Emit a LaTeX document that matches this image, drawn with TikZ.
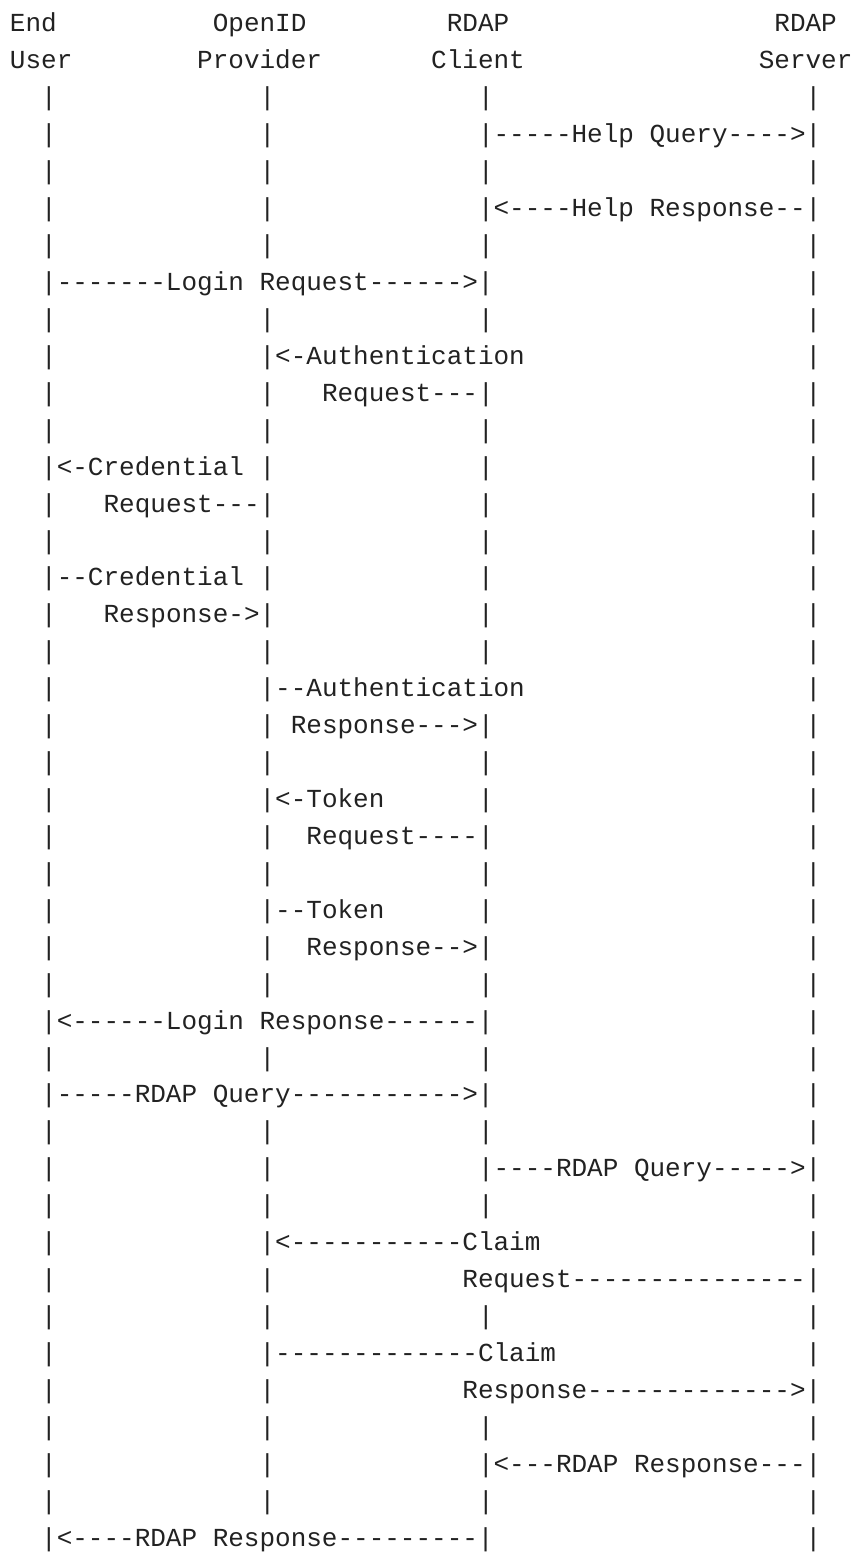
\documentclass[tikz,border=0pt]{standalone}
\usepackage{fontspec}
\setmonofont{Liberation Mono}
\definecolor{ink}{HTML}{222222}
\tikzset{
  txt/.style={anchor=base west, inner sep=0pt, outer sep=0pt,
    font={\ttfamily\fontsize{13pt}{15pt}\selectfont}, text=ink}
}
\newcommand\seg[3]{\node[txt] (r#1c#2) at (#2,#1-1) {#3};}
\newcommand\bars[1]{\seg{#1}{2}{|}\seg{#1}{16}{|}\seg{#1}{30}{|}\seg{#1}{51}{|}}
\begin{document}
\begin{tikzpicture}
\fill[white] (0,0) rectangle (427.5pt,-776pt);
\useasboundingbox (0,0) rectangle (427.5pt,-776pt);
\begin{scope}[shift={(5pt,-16pt)}, x=7.8pt, y=-18.465pt]
\seg{1}{0}{End}\seg{1}{13}{OpenID}\seg{1}{28}{RDAP}\seg{1}{49}{RDAP}
\seg{2}{0}{User}\seg{2}{12}{Provider}\seg{2}{27}{Client}\seg{2}{48}{Server}
\bars{3}
\seg{4}{2}{|}\seg{4}{16}{|}\seg{4}{30}{|-----Help Query---->|}
\bars{5}
\seg{6}{2}{|}\seg{6}{16}{|}\seg{6}{30}{|<----Help Response--|}
\bars{7}
\seg{8}{2}{|-------Login Request------>|}\seg{8}{51}{|}
\bars{9}
\seg{10}{2}{|}\seg{10}{16}{|<-Authentication}\seg{10}{51}{|}
\seg{11}{2}{|}\seg{11}{16}{|}\seg{11}{20}{Request---|}\seg{11}{51}{|}
\bars{12}
\seg{13}{2}{|<-Credential}\seg{13}{16}{|}\seg{13}{30}{|}\seg{13}{51}{|}
\seg{14}{2}{|}\seg{14}{6}{Request---|}\seg{14}{30}{|}\seg{14}{51}{|}
\bars{15}
\seg{16}{2}{|--Credential}\seg{16}{16}{|}\seg{16}{30}{|}\seg{16}{51}{|}
\seg{17}{2}{|}\seg{17}{6}{Response->|}\seg{17}{30}{|}\seg{17}{51}{|}
\bars{18}
\seg{19}{2}{|}\seg{19}{16}{|--Authentication}\seg{19}{51}{|}
\seg{20}{2}{|}\seg{20}{16}{|}\seg{20}{18}{Response--->|}\seg{20}{51}{|}
\bars{21}
\seg{22}{2}{|}\seg{22}{16}{|<-Token}\seg{22}{30}{|}\seg{22}{51}{|}
\seg{23}{2}{|}\seg{23}{16}{|}\seg{23}{19}{Request----|}\seg{23}{51}{|}
\bars{24}
\seg{25}{2}{|}\seg{25}{16}{|--Token}\seg{25}{30}{|}\seg{25}{51}{|}
\seg{26}{2}{|}\seg{26}{16}{|}\seg{26}{19}{Response-->|}\seg{26}{51}{|}
\bars{27}
\seg{28}{2}{|<------Login Response------|}\seg{28}{51}{|}
\bars{29}
\seg{30}{2}{|-----RDAP Query----------->|}\seg{30}{51}{|}
\bars{31}
\seg{32}{2}{|}\seg{32}{16}{|}\seg{32}{30}{|----RDAP Query----->|}
\bars{33}
\seg{34}{2}{|}\seg{34}{16}{|<-----------Claim}\seg{34}{51}{|}
\seg{35}{2}{|}\seg{35}{16}{|}\seg{35}{29}{Request---------------|}
\bars{36}
\seg{37}{2}{|}\seg{37}{16}{|-------------Claim}\seg{37}{51}{|}
\seg{38}{2}{|}\seg{38}{16}{|}\seg{38}{29}{Response------------->|}
\bars{39}
\seg{40}{2}{|}\seg{40}{16}{|}\seg{40}{30}{|<---RDAP Response---|}
\bars{41}
\seg{42}{2}{|<----RDAP Response---------|}\seg{42}{51}{|}
\end{scope}
\end{tikzpicture}
\end{document}
